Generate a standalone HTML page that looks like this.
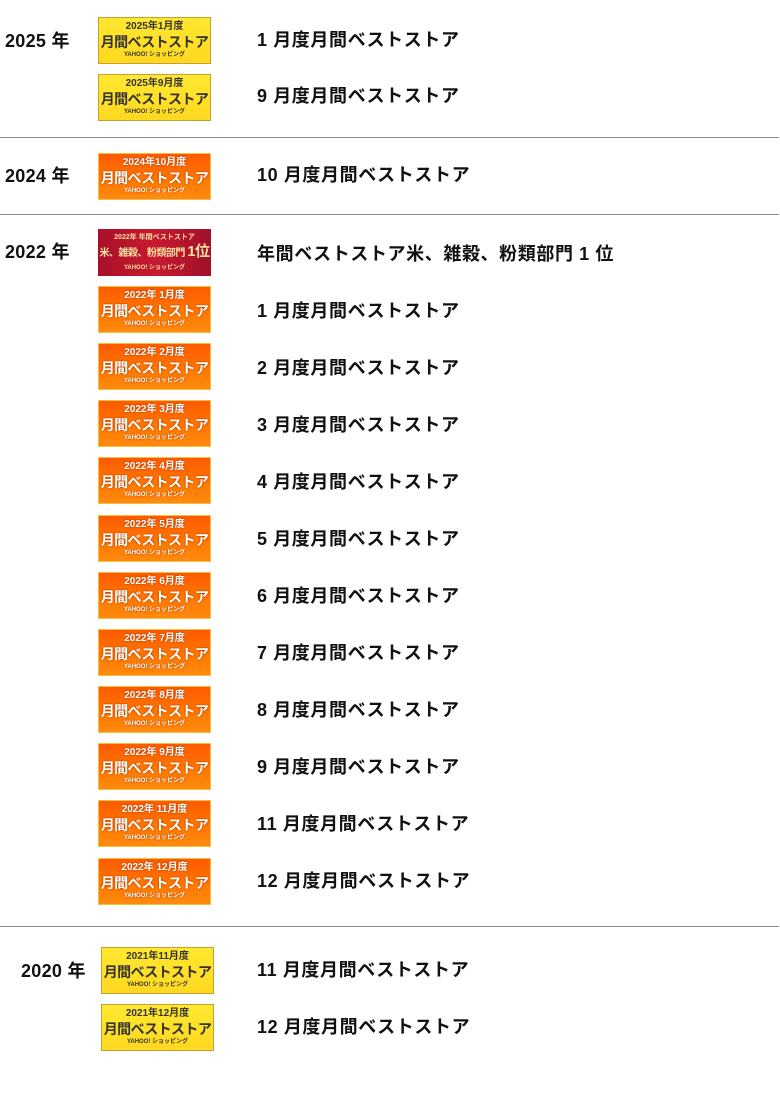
<!DOCTYPE html>
<html><head><meta charset="utf-8"><style>
body{margin:0;width:780px;height:1097px;background:#fff;position:relative;font-family:"Liberation Sans","Noto Sans CJK JP",sans-serif;overflow:hidden}
.y{position:absolute;font-weight:bold;font-size:18px;color:#111;line-height:20px;letter-spacing:0.3px}
.t{position:absolute;left:257px;font-weight:bold;font-size:18px;color:#111;line-height:20px;letter-spacing:0.6px}
.hr{position:absolute;left:0;width:779px;height:1px;background:#888}
.b{position:absolute;left:98px;width:111px;height:45px;text-align:center;font-weight:bold;overflow:hidden;white-space:nowrap}
.o{background:linear-gradient(180deg,#ff5a00,#ff7a00 60%,#ff8a10);border:1px solid #f0c040;color:#fff;text-shadow:0 0 2px #a03000}
.g{background:linear-gradient(180deg,#ffe830,#ffd820);border:1px solid #c8a030;color:#333}
.r{background:linear-gradient(90deg,#a8102a,#c81a30 50%,#a0102a);color:#f8e0a0;border:0;width:113px;height:47px}
.b .a{font-size:10px;line-height:12px;margin-top:3px}
.b .m{font-size:14px;line-height:18px;letter-spacing:-0.6px}
.b .c{font-size:6px;line-height:9px}
</style></head><body>
<div class="y" style="left:5px;top:31px">2025 年</div>
<div class="b g" style="top:17px"><div class="a">2025年1月度</div><div class="m">月間ベストストア</div><div class="c">YAHOO! ショッピング</div></div>
<div class="t" style="top:30px">1 月度月間ベストストア</div>
<div class="b g" style="top:74px"><div class="a">2025年9月度</div><div class="m">月間ベストストア</div><div class="c">YAHOO! ショッピング</div></div>
<div class="t" style="top:86px">9 月度月間ベストストア</div>
<div class="hr" style="top:137px"></div>
<div class="y" style="left:5px;top:166px">2024 年</div>
<div class="b o" style="top:153px"><div class="a">2024年10月度</div><div class="m">月間ベストストア</div><div class="c">YAHOO! ショッピング</div></div>
<div class="t" style="top:165px">10 月度月間ベストストア</div>
<div class="hr" style="top:214px"></div>
<div class="y" style="left:5px;top:242px">2022 年</div>
<div class="b r" style="top:229px"><div class="a" style="font-size:7px;line-height:9px;margin-top:4px">2022年 年間ベストストア</div><div style="font-size:10px;line-height:20px;letter-spacing:-0.5px">米、雑穀、粉類部門 <span style="font-size:15px">1位</span></div><div class="c">YAHOO! ショッピング</div></div>
<div class="t" style="top:244px">年間ベストストア米、雑穀、粉類部門 1 位</div>
<div class="b o" style="top:286px"><div class="a">2022年 1月度</div><div class="m">月間ベストストア</div><div class="c">YAHOO! ショッピング</div></div>
<div class="t" style="top:301px">1 月度月間ベストストア</div>
<div class="b o" style="top:343px"><div class="a">2022年 2月度</div><div class="m">月間ベストストア</div><div class="c">YAHOO! ショッピング</div></div>
<div class="t" style="top:358px">2 月度月間ベストストア</div>
<div class="b o" style="top:400px"><div class="a">2022年 3月度</div><div class="m">月間ベストストア</div><div class="c">YAHOO! ショッピング</div></div>
<div class="t" style="top:415px">3 月度月間ベストストア</div>
<div class="b o" style="top:457px"><div class="a">2022年 4月度</div><div class="m">月間ベストストア</div><div class="c">YAHOO! ショッピング</div></div>
<div class="t" style="top:472px">4 月度月間ベストストア</div>
<div class="b o" style="top:515px"><div class="a">2022年 5月度</div><div class="m">月間ベストストア</div><div class="c">YAHOO! ショッピング</div></div>
<div class="t" style="top:529px">5 月度月間ベストストア</div>
<div class="b o" style="top:572px"><div class="a">2022年 6月度</div><div class="m">月間ベストストア</div><div class="c">YAHOO! ショッピング</div></div>
<div class="t" style="top:586px">6 月度月間ベストストア</div>
<div class="b o" style="top:629px"><div class="a">2022年 7月度</div><div class="m">月間ベストストア</div><div class="c">YAHOO! ショッピング</div></div>
<div class="t" style="top:643px">7 月度月間ベストストア</div>
<div class="b o" style="top:686px"><div class="a">2022年 8月度</div><div class="m">月間ベストストア</div><div class="c">YAHOO! ショッピング</div></div>
<div class="t" style="top:700px">8 月度月間ベストストア</div>
<div class="b o" style="top:743px"><div class="a">2022年 9月度</div><div class="m">月間ベストストア</div><div class="c">YAHOO! ショッピング</div></div>
<div class="t" style="top:757px">9 月度月間ベストストア</div>
<div class="b o" style="top:800px"><div class="a">2022年 11月度</div><div class="m">月間ベストストア</div><div class="c">YAHOO! ショッピング</div></div>
<div class="t" style="top:814px">11 月度月間ベストストア</div>
<div class="b o" style="top:858px"><div class="a">2022年 12月度</div><div class="m">月間ベストストア</div><div class="c">YAHOO! ショッピング</div></div>
<div class="t" style="top:871px">12 月度月間ベストストア</div>
<div class="hr" style="top:926px"></div>
<div class="y" style="left:21px;top:961px">2020 年</div>
<div class="b g" style="left:101px;top:947px"><div class="a">2021年11月度</div><div class="m">月間ベストストア</div><div class="c">YAHOO! ショッピング</div></div>
<div class="t" style="top:960px">11 月度月間ベストストア</div>
<div class="b g" style="left:101px;top:1004px"><div class="a">2021年12月度</div><div class="m">月間ベストストア</div><div class="c">YAHOO! ショッピング</div></div>
<div class="t" style="top:1017px">12 月度月間ベストストア</div>
</body></html>
